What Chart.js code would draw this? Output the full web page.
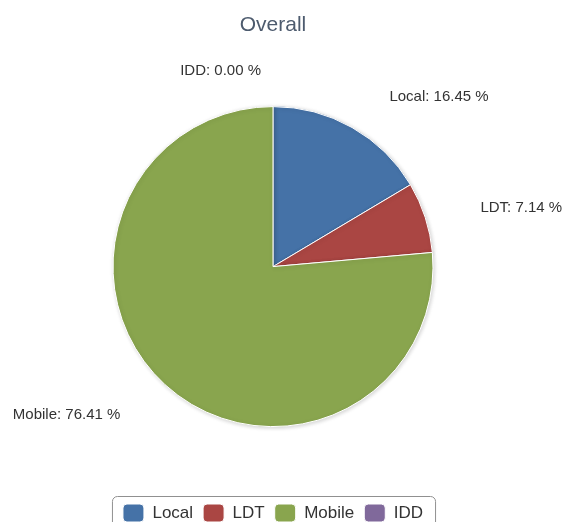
<!DOCTYPE html>
<html lang="en">

<head>
    <meta charset="UTF-8">
    <title>Overall</title>
    <script src="https://cdn.jsdelivr.net/npm/chart.js@4.4.1/dist/chart.umd.min.js"></script>
    <style>
        html, body { margin: 0; padding: 0; background: #fff; }
        #wrap { width: 565px; height: 522px; }
    </style>
</head>

<body>
    <div id="wrap"><canvas id="myChart" width="565" height="522"></canvas></div>

    <script>
        const categorias = ['Local', 'LDT', 'Mobile', 'IDD'];
        const percentuais = [16.45, 7.14, 76.41, 0.00];
        const cores = ['#4572A7', '#AA4643', '#89A54E', '#80699B'];

        // rótulos "Nome: xx.xx %" fora da pizza, como no Highcharts
        const rotulosFora = {
            id: 'rotulosFora',
            afterDatasetsDraw(chart) {
                const ctx = chart.ctx;
                const meta = chart.getDatasetMeta(0);
                ctx.save();
                ctx.font = '15px "Liberation Sans", Arial, sans-serif';
                ctx.fillStyle = '#333333';
                ctx.textBaseline = 'middle';
                meta.data.forEach((arc, i) => {
                    const p = arc.getProps(['x', 'y', 'startAngle', 'endAngle', 'outerRadius'], true);
                    const meio = (p.startAngle + p.endAngle) / 2;
                    const cos = Math.cos(meio), sin = Math.sin(meio);
                    const px = p.x + cos * (p.outerRadius + 30);
                    const py = p.y + sin * (p.outerRadius + 38) + 2;
                    const esquerda = cos <= 0;
                    const folga = 12 + 15 * Math.sqrt(Math.abs(cos));
                    ctx.textAlign = esquerda ? 'right' : 'left';
                    const texto = categorias[i] + ': ' + percentuais[i].toFixed(2) + ' %';
                    ctx.fillText(texto, px + (esquerda ? -folga : folga), py);
                });
                ctx.restore();
            }
        };

        // sombra leve em volta da pizza
        const sombra = {
            id: 'sombra',
            beforeDatasetsDraw(chart) {
                const ctx = chart.ctx;
                ctx.save();
                ctx.shadowColor = 'rgba(0, 0, 0, 0.18)';
                ctx.shadowBlur = 4;
                ctx.shadowOffsetX = 1;
                ctx.shadowOffsetY = 1;
            },
            afterDatasetsDraw(chart) {
                chart.ctx.restore();
            }
        };

        // moldura arredondada da legenda
        const molduraLegenda = {
            id: 'molduraLegenda',
            afterDraw(chart) {
                const lg = chart.legend;
                if (!lg || !lg.legendHitBoxes.length) return;
                const caixas = lg.legendHitBoxes;
                const esq = Math.min(...caixas.map(b => b.left)) - 11;
                const dir = Math.max(...caixas.map(b => b.left + b.width)) + 12;
                const topo = Math.min(...caixas.map(b => b.top)) - 8;
                const ctx = chart.ctx;
                ctx.save();
                ctx.strokeStyle = '#909090';
                ctx.lineWidth = 1;
                ctx.beginPath();
                ctx.roundRect(esq + 0.5, topo + 0.5, dir - esq, 60, 5);
                ctx.stroke();
                ctx.restore();
            }
        };

        const ctx = document.getElementById('myChart').getContext('2d');

        const data = {
            labels: categorias,
            datasets: [{
                data: percentuais,
                backgroundColor: cores,
                borderColor: '#ffffff',
                borderWidth: 1,
                radius: 160
            }]
        };

        const config = {
            type: 'pie',
            data: data,
            options: {
                responsive: false,
                animation: false,
                layout: {
                    padding: { top: 2, right: 19, bottom: -10, left: 0 }
                },
                plugins: {
                    title: {
                        display: true,
                        text: 'Overall',
                        color: '#4D5B6E',
                        font: { family: '"Liberation Sans", Arial, sans-serif', size: 21, weight: 'normal', lineHeight: 1 },
                        padding: { top: 12.5, bottom: 3.7 }
                    },
                    legend: {
                        display: true,
                        position: 'bottom',
                        labels: {
                            color: '#333333',
                            font: { family: '"Liberation Sans", Arial, sans-serif', size: 17 },
                            boxWidth: 21,
                            boxHeight: 18,
                            useBorderRadius: true,
                            borderRadius: 4,
                            padding: 10
                        }
                    },
                    tooltip: { enabled: false }
                }
            },
            plugins: [sombra, rotulosFora, molduraLegenda]
        };

        const meuGrafico = new Chart(ctx, config);
    </script>
</body>

</html>
